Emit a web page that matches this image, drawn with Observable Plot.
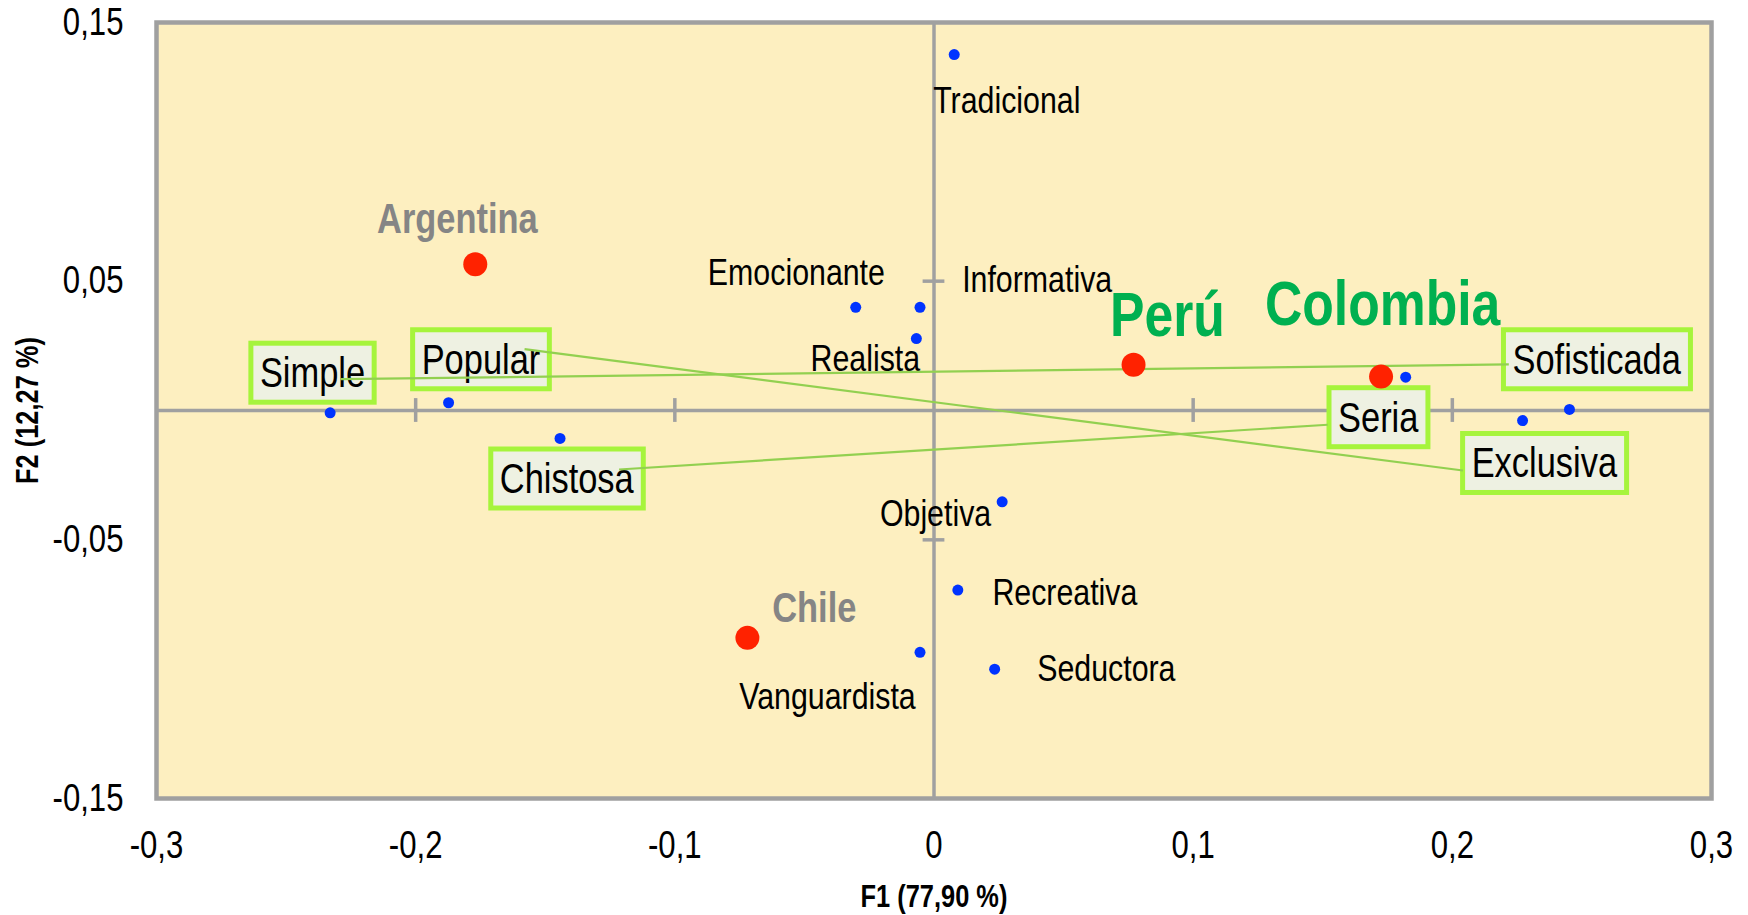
<!DOCTYPE html>
<html>
<head>
<meta charset="utf-8">
<script src="https://cdn.jsdelivr.net/npm/d3@7"></script>
<script src="https://cdn.jsdelivr.net/npm/@observablehq/plot@0.6"></script>
<style>
  html, body { margin: 0; padding: 0; background: #ffffff; }
  #chart { width: 1748px; height: 915px; }
</style>
</head>
<body>
<div id="chart"></div>
<script>
// ---- Data ----
const countries = ["Argentina", "Perú", "Colombia", "Chile"];
const countryF1 = [-0.177, 0.077, 0.1725, -0.072];
const countryF2 = [0.0565, 0.0177, 0.0131, -0.0879];
const countryLabelF1 = [-0.1839, 0.0901, 0.1731, -0.0462];
const countryLabelF2 = [0.0737, 0.0366, 0.0409, -0.0767];
const countryColor = ["#858585", "#00b050", "#00b050", "#858585"];

const attributes = ["Tradicional", "Emocionante", "Informativa", "Realista",
  "Simple", "Popular", "Chistosa", "Seria", "Sofisticada", "Exclusiva",
  "Objetiva", "Recreativa", "Vanguardista", "Seductora"];
const attrF1 = [0.0078, -0.0302, -0.0054, -0.0068, -0.233, -0.1873, -0.1443,
  0.182, 0.2452, 0.2271, 0.0263, 0.0092, -0.0054, 0.0234];
const attrF2 = [0.1376, 0.0399, 0.0399, 0.0278, -0.0009, 0.003, -0.0108,
  0.0129, 0.0004, -0.0039, -0.0353, -0.0694, -0.0935, -0.100];

// plain labels
const plainLabels = ["Tradicional", "Emocionante", "Informativa", "Realista",
  "Objetiva", "Recreativa", "Seductora", "Vanguardista"];
const plainLabelF1 = [0.0281, -0.0531, 0.0398, -0.0265, 0.0006, 0.0505, 0.0665, -0.0411];
const plainLabelF2 = [0.1194, 0.0530, 0.0504, 0.0198, -0.0401, -0.0707, -0.1000, -0.1108];

// boxed labels
const boxedLabels = ["Simple", "Popular", "Chistosa", "Sofisticada", "Seria", "Exclusiva"];
const boxedLabelF1 = [-0.2398, -0.1748, -0.1417, 0.2557, 0.1714, 0.2355];
const boxedLabelF2 = [0.0142, 0.0194, -0.0267, 0.0194, -0.0030, -0.0207];

// connecting lines between opposite boxed labels
const lineFrom = ["Simple", "Popular", "Chistosa"];
const lineTo = ["Sofisticada", "Exclusiva", "Seria"];
const lineX1 = [-0.229, -0.158, -0.1215];
const lineY1 = [0.0121, 0.0237, -0.0228];
const lineX2 = [0.2218, 0.2041, 0.1519];
const lineY2 = [0.0178, -0.0232, -0.0055];

// axes ticks
const xTicks = [-0.3, -0.2, -0.1, 0, 0.1, 0.2, 0.3];
const xTickLabels = ["-0,3", "-0,2", "-0,1", "0", "0,1", "0,2", "0,3"];
const yTicks = [0.15, 0.05, -0.05, -0.15];
const yTickLabels = ["0,15", "0,05", "-0,05", "-0,15"];
const xTickMarks = [-0.2, -0.1, 0.1, 0.2];
const yTickMarks = [-0.05, 0.05];

const xTitle = "F1 (77,90 %)";
const yTitle = "F2 (12,27 %)";

// ---- Build tables ----
const countryData = countries.map((c, i) => ({name: c, x: countryF1[i], y: countryF2[i],
  lx: countryLabelF1[i], ly: countryLabelF2[i], color: countryColor[i]}));
const attrData = attributes.map((a, i) => ({name: a, x: attrF1[i], y: attrF2[i]}));
const plainData = plainLabels.map((a, i) => ({name: a, x: plainLabelF1[i], y: plainLabelF2[i]}));
const boxedData = boxedLabels.map((a, i) => ({name: a, x: boxedLabelF1[i], y: boxedLabelF2[i]}));
const lineData = lineFrom.map((a, i) => ({from: a, to: lineTo[i], x1: lineX1[i], y1: lineY1[i], x2: lineX2[i], y2: lineY2[i]}));

const FONT = "'Liberation Sans', Arial, sans-serif";
const GREY = "#a0a0a0";
const NARROW = 0.82; // emulate Arial Narrow by horizontal compression

const bigNames = ["Perú", "Colombia"];
const big = countryData.filter(d => bigNames.includes(d.name));
const small = countryData.filter(d => !bigNames.includes(d.name));

const chart = Plot.plot({
  width: 1748,
  height: 915,
  marginLeft: 156,
  marginRight: 37,
  marginTop: 22,
  marginBottom: 117,
  x: {domain: [-0.3, 0.3], axis: null},
  y: {domain: [-0.15, 0.15], axis: null},
  style: {fontFamily: FONT, background: "#ffffff", overflow: "visible"},
  marks: [
    Plot.frame({fill: "#fdefc0"}),
    Plot.ruleX([0], {stroke: GREY, strokeWidth: 3.5}),
    Plot.ruleY([0], {stroke: GREY, strokeWidth: 3.5}),
    Plot.ruleX(xTickMarks, {x: d => d, y1: -0.0046, y2: 0.0046, stroke: GREY, strokeWidth: 3.5}),
    Plot.ruleY(yTickMarks, {y: d => d, x1: -0.0042, x2: 0.0042, stroke: GREY, strokeWidth: 3.5}),
    Plot.frame({stroke: GREY, strokeWidth: 4.5}),
    // tick labels
    Plot.text(xTicks, {x: d => d, y: -0.15, text: (d, i) => xTickLabels[i], dy: 47,
      fontSize: 38, fill: "#000"}),
    Plot.text(yTicks, {x: -0.3, y: d => d, text: (d, i) => yTickLabels[i], dx: -33,
      textAnchor: "end", fontSize: 38, fill: "#000"}),
    Plot.text([xTitle], {x: 0, y: -0.15, text: d => d, dy: 99, fontSize: 31, fontWeight: "bold", fill: "#000"}),
    Plot.text([yTitle], {x: -0.3, y: 0, text: d => d, dx: -128, rotate: -90, fontSize: 31, fontWeight: "bold", fill: "#000"}),
    // plain labels
    Plot.text(plainData, {x: "x", y: "y", text: "name", fontSize: 37, fill: "#000"}),
    // boxed labels
    Plot.text(boxedData, {x: "x", y: "y", text: "name", fontSize: 42, fill: "#000"}),
    // country labels
    Plot.text(small, {x: "lx", y: "ly", text: "name", fontSize: 42, fontWeight: "bold", fill: "color"}),
    Plot.text(big, {x: "lx", y: "ly", text: "name", fontSize: 63, fontWeight: "bold", fill: "color"}),
    // connecting lines
    Plot.link(lineData, {x1: "x1", y1: "y1", x2: "x2", y2: "y2", stroke: "#92d050", strokeWidth: 2.2}),
    // points
    Plot.dot(attrData, {x: "x", y: "y", r: 5.5, fill: "#0033ff", stroke: null}),
    Plot.dot(countryData, {x: "x", y: "y", r: 12, fill: "#ff2200", stroke: null})
  ]
});

document.getElementById("chart").appendChild(chart);

const svgNS = "http://www.w3.org/2000/svg";
const texts = Array.from(chart.querySelectorAll("text"));

// draw label boxes behind the boxed texts (before narrowing, using unscaled bbox)
texts.forEach(t => {
  if (!boxedLabels.includes(t.textContent)) return;
  const bb = t.getBBox();
  const padX = 9, padY = 6;
  const r = document.createElementNS(svgNS, "rect");
  r.setAttribute("x", bb.x * NARROW - padX);
  r.setAttribute("y", bb.y - padY);
  r.setAttribute("width", bb.width * NARROW + 2 * padX);
  r.setAttribute("height", bb.height + 2 * padY);
  r.setAttribute("fill", "#eef1e2");
  r.setAttribute("stroke", "#a6f43c");
  r.setAttribute("stroke-width", 5);
  const tr = t.getAttribute("transform");
  if (tr) r.setAttribute("transform", tr);
  t.parentNode.insertBefore(r, t);
});

// narrow every text horizontally around its anchor
texts.forEach(t => {
  const tr = t.getAttribute("transform");
  if (tr) {
    t.setAttribute("transform", tr + ` scale(${NARROW},1)`);
  } else {
    const x = +(t.getAttribute("x") || 0), y = +(t.getAttribute("y") || 0);
    t.removeAttribute("x"); t.removeAttribute("y");
    t.setAttribute("transform", `translate(${x},${y}) scale(${NARROW},1)`);
  }
});
</script>
</body>
</html>
